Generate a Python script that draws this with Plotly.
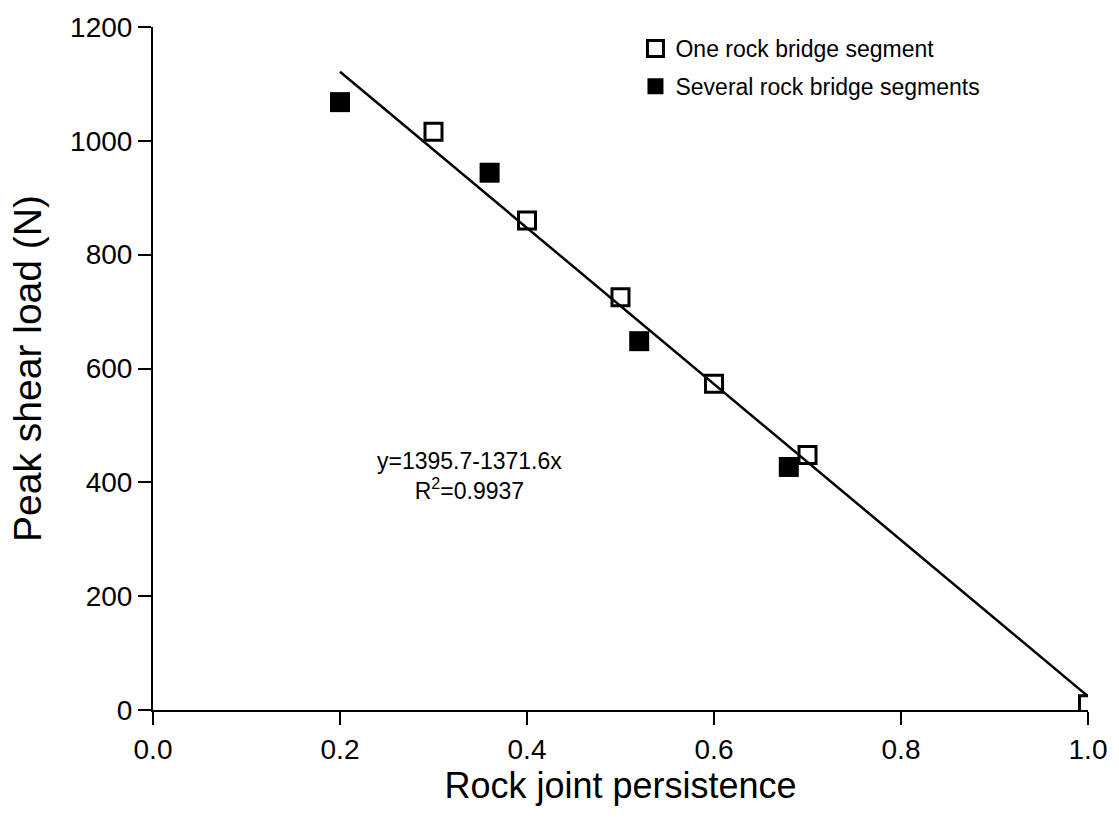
import plotly.graph_objects as go

# Data
one_x = [0.3, 0.4, 0.5, 0.6, 0.7, 1.0]
one_y = [1016, 860, 725, 573, 448, 10]
sev_x = [0.2, 0.36, 0.52, 0.68]
sev_y = [1068, 944, 648, 427]
fit_intercept = 1395.7
fit_slope = -1371.6
fit_x = [0.2, 1.0]
fit_y = [fit_intercept + fit_slope * v for v in fit_x]

x_ticks = [0.0, 0.2, 0.4, 0.6, 0.8, 1.0]
y_ticks = [0, 200, 400, 600, 800, 1000, 1200]

FONT = "Liberation Sans, Arial, sans-serif"

fig = go.Figure()
fig.add_trace(go.Scatter(x=fit_x, y=fit_y, mode="lines",
                         line=dict(color="black", width=2.5), showlegend=False, hoverinfo="skip"))
fig.add_trace(go.Scatter(x=one_x, y=one_y, mode="markers", name="One rock bridge segment",
                         legendgroup="a",
                         marker=dict(symbol="square-open", size=17, color="black",
                                     line=dict(color="black", width=3))))
fig.add_trace(go.Scatter(x=sev_x, y=sev_y, mode="markers", name="Several rock bridge segments",
                         legendgroup="b",
                         marker=dict(symbol="square", size=20, color="black")))

fig.add_annotation(x=0.338, y=412, xref="x", yref="y",
                   text="y=1395.7-1371.6x<br>R<sup>2</sup>=0.9937",
                   showarrow=False, font=dict(family=FONT, size=23, color="black"),
                   align="center")

axis_common = dict(showgrid=False, zeroline=False, showline=True, linecolor="black",
                   linewidth=2, ticks="outside", ticklen=13, tickwidth=2, tickcolor="black",
                   tickfont=dict(family=FONT, size=28, color="black"), mirror=False)

fig.update_xaxes(range=[0, 1.0], tickvals=x_ticks, tickformat=".1f",
                 title=dict(text="Rock joint persistence", font=dict(family=FONT, size=36, color="black"),
                            standoff=0),
                 **axis_common)
fig.update_yaxes(range=[0, 1200], tickvals=y_ticks,
                 title=dict(text="Peak shear load (N)", font=dict(family=FONT, size=39, color="black"),
                            standoff=16),
                 **axis_common)

fig.update_layout(
    width=1119, height=823,
    margin=dict(l=153, r=31, t=25, b=113),
    plot_bgcolor="white", paper_bgcolor="white",
    legend=dict(x=0.516, y=1.0, xanchor="left", yanchor="top",
                font=dict(family=FONT, size=23, color="black"),
                bgcolor="rgba(0,0,0,0)", tracegroupgap=5),
)

fig.write_html("out.html")
